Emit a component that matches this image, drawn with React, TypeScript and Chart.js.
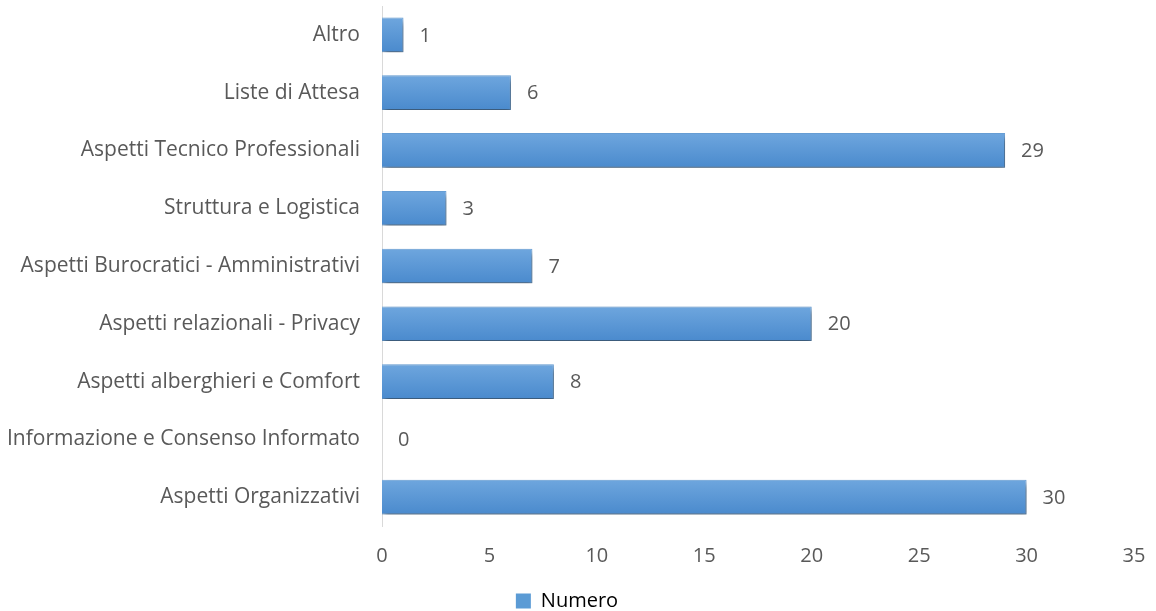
import React, { useEffect, useRef } from "react";
import { Chart, registerables } from "chart.js";

Chart.register(...registerables);

const categories = [
  "Altro",
  "Liste di Attesa",
  "Aspetti Tecnico Professionali",
  "Struttura e Logistica",
  "Aspetti Burocratici - Amministrativi",
  "Aspetti relazionali - Privacy",
  "Aspetti alberghieri e Comfort",
  "Informazione e Consenso Informato",
  "Aspetti Organizzativi",
];
const values = [1, 6, 29, 3, 7, 20, 8, 0, 30];
const seriesName = "Numero";
const xMin = 0;
const xMax = 35;
const xStep = 5;

const FONT = "'Open Sans', sans-serif";
const TEXT = "#595959";
const BAR_PCT = 0.6;

const labelPlugin = {
  id: "valueLabels",
  afterDatasetsDraw(chart: any) {
    const ctx = chart.ctx;
    const meta = chart.getDatasetMeta(0);
    ctx.save();
    ctx.fillStyle = TEXT;
    ctx.font = `20px ${FONT}`;
    ctx.textAlign = "left";
    ctx.textBaseline = "middle";
    meta.data.forEach((bar: any, i: number) => {
      ctx.fillText(String(values[i]), bar.x + 16, bar.y + 1);
    });
    ctx.restore();
  },
};

const shadowPlugin = {
  id: "barShadow",
  beforeDatasetDraw(chart: any) {
    const ctx = chart.ctx;
    ctx.save();
    ctx.shadowColor = "rgba(0,0,0,0.5)";
    ctx.shadowBlur = 6;
    ctx.shadowOffsetX = 2;
    ctx.shadowOffsetY = 4;
  },
  afterDatasetDraw(chart: any) {
    chart.ctx.restore();
  },
};

export default function App() {
  const ref = useRef<HTMLCanvasElement>(null);
  useEffect(() => {
    if (!ref.current) return;
    const chart = new Chart(ref.current, {
      type: "bar",
      data: {
        labels: categories,
        datasets: [
          {
            label: seriesName,
            data: values,
            backgroundColor: (c: any) => {
              const ch = c.chart;
              const ys = ch.scales && ch.scales.y;
              if (!ch.chartArea || !ys || c.dataIndex === undefined) return "#5b9bd5";
              const cy = ys.getPixelForValue(c.dataIndex);
              const band = ys.height / categories.length;
              const h = band * BAR_PCT;
              if (!isFinite(cy) || !isFinite(h)) return "#5b9bd5";
              const g = ch.ctx.createLinearGradient(0, cy - h / 2, 0, cy + h / 2);
              g.addColorStop(0, "#6ea6de");
              g.addColorStop(1, "#4a8acd");
              return g;
            },
            borderColor: "#6aa3dc",
            borderWidth: 1,
            barPercentage: BAR_PCT,
            categoryPercentage: 1,
          },
        ],
      },
      options: {
        indexAxis: "y",
        animation: false,
        responsive: false,
        maintainAspectRatio: false,
        layout: { padding: { top: 6, right: 22, left: 0, bottom: -10 } },
        scales: {
          x: {
            min: xMin,
            max: xMax,
            ticks: { stepSize: xStep, color: TEXT, font: { family: FONT, size: 20 }, padding: 10 },
            grid: { display: false },
            border: { display: false },
            afterFit: (s: any) => {
              s.height = 65;
            },
          },
          y: {
            ticks: { color: TEXT, font: { family: FONT, size: 21 }, padding: 14 },
            grid: { display: false },
            border: { display: true, color: "#d9d9d9", width: 1 },
            afterFit: (s: any) => {
              s.width = 382;
              s.paddingTop = 0;
              s.paddingBottom = 0;
            },
          },
        },
        plugins: {
          legend: {
            position: "bottom",
            labels: {
              color: TEXT,
              font: { family: FONT, size: 20 },
              boxWidth: 15,
              boxHeight: 15,
              padding: 0,
              generateLabels: () => [
                { text: seriesName, fillStyle: "#5b9bd5", strokeStyle: "#5b9bd5", lineWidth: 0, hidden: false, datasetIndex: 0 },
              ],
            },
          },
          tooltip: { enabled: false },
        },
      },
      plugins: [shadowPlugin, labelPlugin],
    });
    return () => chart.destroy();
  }, []);
  return (
    <div style={{ position: "fixed", left: 0, top: 0, width: 1156, height: 611, background: "#fff" }}>
      <canvas ref={ref} width={1156} height={611} style={{ width: 1156, height: 611 }} />
    </div>
  );
}
